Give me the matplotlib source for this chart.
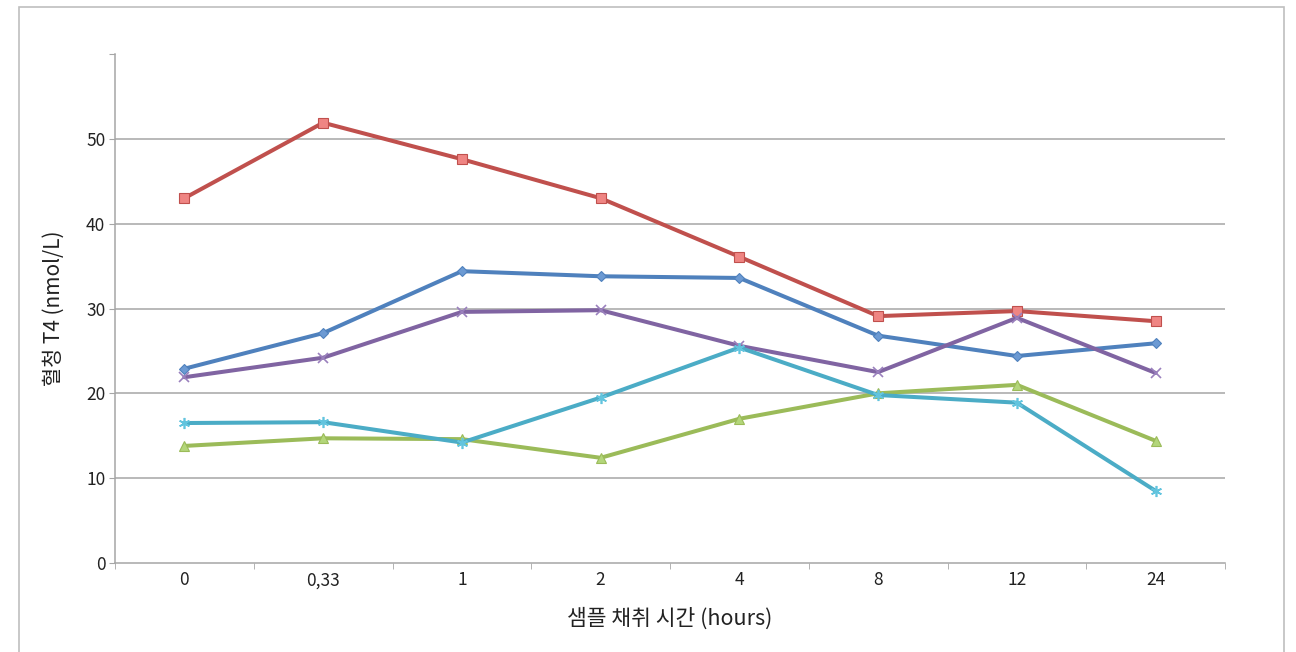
import matplotlib
matplotlib.use("Agg")
import matplotlib.pyplot as plt
from matplotlib.patches import Rectangle
import numpy as np

plt.rcParams['font.family'] = ['Noto Sans CJK KR', 'DejaVu Sans']

categories = ["0", "0,33", "1", "2", "4", "8", "12", "24"]
series_blue = [22.9, 27.1, 34.4, 33.8, 33.6, 26.8, 24.4, 25.9]
series_red = [43.0, 51.9, 47.6, 43.0, 36.1, 29.1, 29.7, 28.5]
series_green = [13.8, 14.7, 14.6, 12.4, 17.0, 20.0, 21.0, 14.4]
series_purple = [21.9, 24.2, 29.6, 29.8, 25.6, 22.5, 28.9, 22.4]
series_cyan = [16.5, 16.6, 14.2, 19.5, 25.4, 19.8, 18.9, 8.5]

y_ticks = [0, 10, 20, 30, 40, 50, 60]
y_labels = ["0", "10", "20", "30", "40", "50", ""]

fig = plt.figure(figsize=(12.96, 6.52), dpi=100)

# outer chart frame
fig.patches.append(Rectangle((19 / 1296, -0.05), (1284 - 19) / 1296, 1 - 7 / 652 + 0.05,
                             transform=fig.transFigure, fill=False,
                             edgecolor="#BFBFBF", linewidth=1.2))

ax = fig.add_axes([115 / 1296, 1 - 563 / 652, (1225 - 115) / 1296, (563 - 54) / 652])

x = np.arange(len(categories))
styles = [
    (series_blue, "#4F81BD", "D", "#6C9AD3", 5.5),
    (series_red, "#C0504D", "s", "#EF8583", 7.0),
    (series_green, "#9BBB59", "^", "#B3D67A", 7.0),
    (series_purple, "#8064A2", "x", "#9A80BD", 7.0),
    (series_cyan, "#4BACC6", (6, 2, 0), "#62C4DE", 8.0),
]
for vals, color, marker, face, ms in styles:
    if marker in ("x",) or isinstance(marker, tuple):
        ax.plot(x, vals, color=color, linewidth=2.9, marker=marker,
                markersize=ms, markeredgecolor=face, markeredgewidth=1.2,
                solid_capstyle="round", zorder=3)
    else:
        ax.plot(x, vals, color=color, linewidth=2.9, marker=marker,
                markersize=ms, markerfacecolor=face, markeredgecolor=color,
                markeredgewidth=0.8, solid_capstyle="round", zorder=3)

ax.set_xlim(-0.5, len(categories) - 0.5)
ax.set_ylim(0, 60)

for v in [10, 20, 30, 40, 50]:
    ax.axhline(v, color="#A6A6A6", linewidth=1.1, zorder=1)

ax.set_yticks(y_ticks)
ax.set_yticklabels(y_labels)
ax.set_xticks(x)
ax.set_xticklabels(categories)
ax.set_xticks(np.arange(-0.5, len(categories)), minor=True)
ax.tick_params(axis="x", which="major", length=0, pad=6, labelsize=12.5, colors="#222222")
ax.tick_params(axis="x", which="minor", length=4, color="#A6A6A6", direction="out")
ax.tick_params(axis="y", length=4, color="#A6A6A6", pad=3, labelsize=12.5, colors="#222222")
ax.tick_params(axis="y", colors="#A6A6A6", labelcolor="#222222")

for side in ["top", "right"]:
    ax.spines[side].set_visible(False)
for side in ["left", "bottom"]:
    ax.spines[side].set_color("#A6A6A6")
    ax.spines[side].set_linewidth(1.1)

ax.set_xlabel("샘플 채취 시간 (hours)", fontsize=15.5, color="#222222", labelpad=13)
ax.set_ylabel("혈청 T4 (nmol/L)", fontsize=15, color="#222222", labelpad=15)

fig.savefig("out.png", dpi=100)
